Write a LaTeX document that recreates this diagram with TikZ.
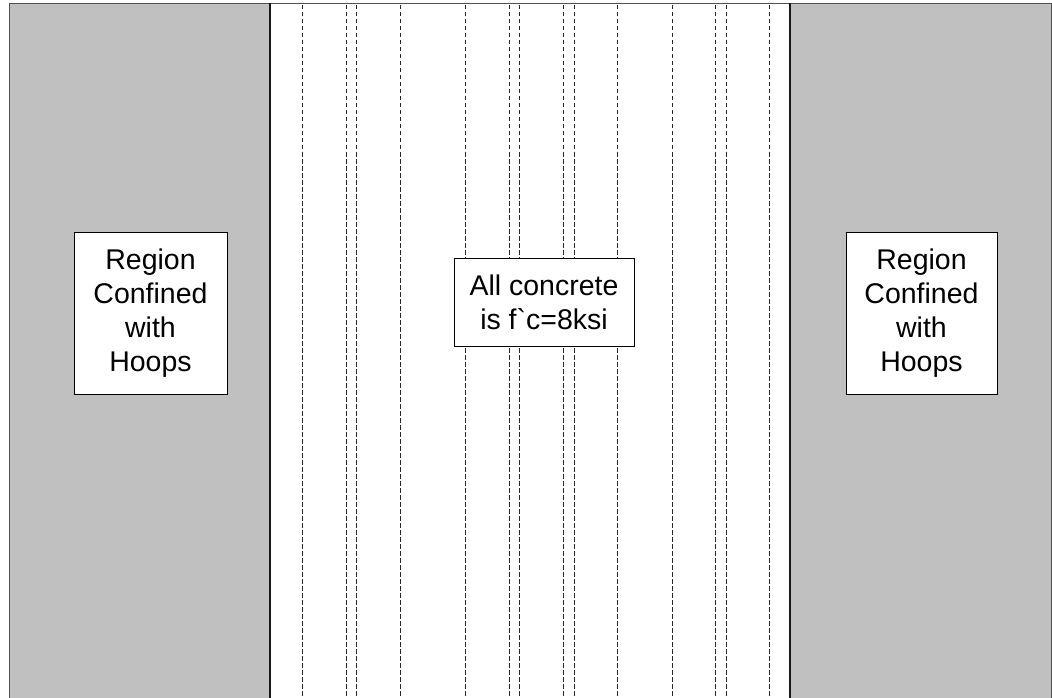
\documentclass[tikz,border=0pt]{standalone}
\usepackage{fontspec}
\setmainfont{Liberation Sans}
\newfontfamily\rawfont{Liberation Sans}
\definecolor{hoopgray}{HTML}{C0C0C0}
\definecolor{edgegray}{HTML}{505050}
\tikzset{
  hoopregion/.style={fill=hoopgray, draw=edgegray, line width=1.2pt},
  divider/.style={draw=black!90, line width=1.8pt},
  rebar/.style={draw=black!85, line width=0.9pt, dash pattern=on 4.5pt off 2.5pt},
  labelbox/.style={draw=black, fill=white, line width=0.9pt, align=center,
    font=\fontsize{28.5pt}{34pt}\selectfont, inner sep=0pt},
}
\begin{document}
\begin{tikzpicture}[x=1pt, y=-1pt]
\useasboundingbox (0,0) rectangle (1052,698);
% gray confined regions
\path[hoopregion] (9.5,3.5) -- (9.5,710) -- (270,710) -- (270,3.5) -- cycle;
\path[hoopregion] (1051.5,3.5) -- (1051.5,710) -- (790,710) -- (790,3.5) -- cycle;
% top border of the core
\draw[edgegray, line width=1.2pt] (270,3.5) -- (790,3.5);
% dashed bar lines
\foreach \x in {302.5,346.5,356.5,400,465.5,509.5,519.5,563.5,574,617.5,672,715.5,726,769.5}
  \draw[rebar] (\x,5) -- (\x,700);
% dividing lines
\draw[divider] (270,3) -- (270,700);
\draw[divider] (790,3) -- (790,700);
% labels
\node[labelbox, minimum width=153pt, minimum height=162pt] (left) at (150.5,313) {Region\\Confined\\with\\Hoops};
\node[labelbox, minimum width=180pt, minimum height=88pt] (mid) at (544,302) {All concrete\\is f{\rawfont`}c=8ksi};
\node[labelbox, minimum width=151pt, minimum height=162pt] (right) at (921.5,313) {Region\\Confined\\with\\Hoops};
\end{tikzpicture}
\end{document}
